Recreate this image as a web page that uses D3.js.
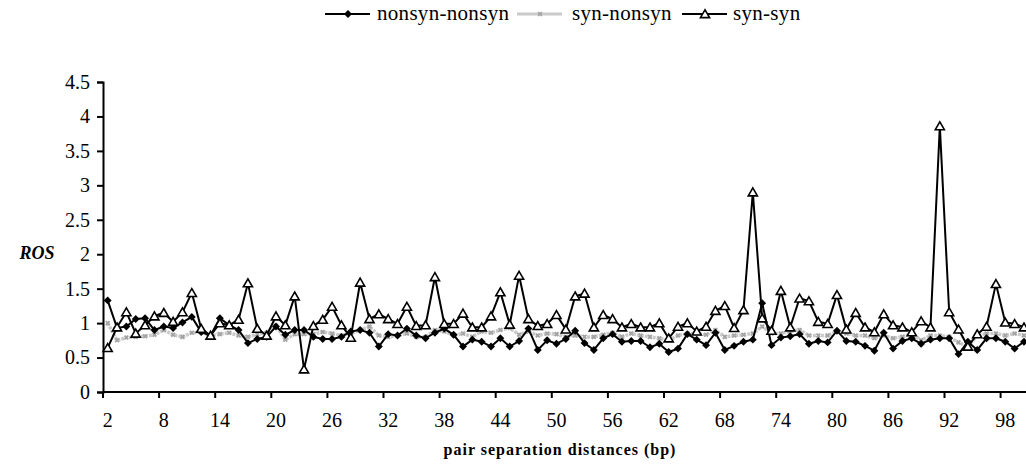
<!DOCTYPE html>
<html lang="en">
<head>
<meta charset="utf-8" />
<title>ROS by pair separation distance</title>
<script src="https://cdn.jsdelivr.net/npm/d3@7/dist/d3.min.js"></script>
<style>
  body { margin: 0; background: #fff; }
</style>
</head>
<body>
<svg id="chart" width="1026" height="468"></svg>
<script>
// pair separation distances 2..100 (bp)
const distances = d3.range(2, 101);

const nonsynNonsyn = [
  1.33, 0.93, 0.95, 1.06, 1.07, 0.90, 0.95, 0.93, 1.01, 1.09,
  0.87, 0.82, 1.07, 0.97, 0.90, 0.71, 0.77, 0.80, 0.95, 0.83,
  0.90, 0.90, 0.80, 0.77, 0.77, 0.80, 0.88, 0.90, 0.86, 0.66,
  0.84, 0.82, 0.92, 0.82, 0.78, 0.86, 0.92, 0.83, 0.66, 0.76,
  0.73, 0.66, 0.78, 0.66, 0.74, 0.92, 0.61, 0.75, 0.70, 0.77,
  0.89, 0.71, 0.61, 0.78, 0.84, 0.73, 0.74, 0.74, 0.65, 0.70,
  0.58, 0.63, 0.84, 0.76, 0.68, 0.86, 0.61, 0.67, 0.73, 0.76,
  1.29, 0.68, 0.79, 0.81, 0.84, 0.70, 0.74, 0.72, 0.89, 0.74,
  0.73, 0.67, 0.60, 0.86, 0.63, 0.74, 0.78, 0.70, 0.76, 0.78,
  0.78, 0.55, 0.73, 0.61, 0.78, 0.78, 0.73, 0.63, 0.73
];

const synNonsyn = [
  1.00, 0.75, 0.79, 0.80, 0.81, 0.83, 0.90, 0.83, 0.80, 0.86,
  0.87, 0.82, 0.84, 0.86, 0.82, 0.80, 0.84, 0.86, 0.96, 0.76,
  0.84, 0.84, 0.84, 0.87, 0.85, 0.82, 0.85, 0.90, 0.95, 0.82,
  0.80, 0.82, 0.85, 0.80, 0.80, 0.90, 0.88, 0.82, 0.85, 0.80,
  0.88, 0.86, 0.90, 0.93, 0.83, 0.88, 0.82, 0.85, 0.84, 0.80,
  0.82, 0.80, 0.80, 0.83, 0.86, 0.80, 0.85, 0.82, 0.80, 0.78,
  0.75, 0.82, 0.85, 0.85, 0.83, 0.90, 0.80, 0.82, 0.83, 0.85,
  0.95, 0.85, 0.85, 0.88, 0.90, 0.82, 0.82, 0.82, 0.88, 0.85,
  0.82, 0.82, 0.78, 0.82, 0.78, 0.80, 0.85, 0.75, 0.82, 0.82,
  0.80, 0.72, 0.66, 0.82, 0.85, 0.85, 0.82, 0.85, 0.82
];

const synSyn = [
  0.64, 0.94, 1.16, 0.85, 0.97, 1.10, 1.15, 1.02, 1.16, 1.44,
  0.92, 0.82, 1.00, 0.97, 1.05, 1.58, 0.92, 0.82, 1.10, 0.97,
  1.39, 0.33, 0.96, 1.05, 1.24, 0.97, 0.79, 1.59, 1.06, 1.13,
  1.06, 0.99, 1.24, 0.96, 0.97, 1.67, 0.99, 0.99, 1.14, 0.94,
  0.94, 1.10, 1.45, 0.98, 1.69, 1.06, 0.96, 0.99, 1.12, 0.91,
  1.39, 1.43, 0.94, 1.12, 1.06, 0.94, 0.99, 0.94, 0.94, 1.00,
  0.78, 0.95, 1.00, 0.88, 0.95, 1.18, 1.25, 0.93, 1.19, 2.90,
  1.07, 0.89, 1.47, 0.94, 1.36, 1.32, 1.02, 0.99, 1.41, 0.91,
  1.15, 0.94, 0.87, 1.13, 0.97, 0.94, 0.87, 1.03, 0.94, 3.86,
  1.16, 0.91, 0.66, 0.84, 0.95, 1.57, 1.01, 0.99, 0.94
];

const yTicks = [0, 0.5, 1, 1.5, 2, 2.5, 3, 3.5, 4, 4.5];
const xTickLabels = d3.range(2, 101, 6);

const seriesNames = ["nonsyn-nonsyn", "syn-nonsyn", "syn-syn"];

const serif = "Liberation Serif";
const labelSize = 20;

const svg = d3.select("#chart").attr("font-family", serif);

const margin = { top: 82, left: 103, bottom: 76 };
const catWidth = 9.35;
const innerHeight = 468 - margin.top - margin.bottom;

const xScale = d3.scaleBand()
  .domain(distances)
  .range([margin.left, margin.left + catWidth * distances.length]);

const yScale = d3.scaleLinear()
  .domain([0, 4.5])
  .range([margin.top + innerHeight, margin.top]);

const xPos = (d) => xScale(d) + xScale.bandwidth() / 2;

// axes
const yAxis = svg.append("g")
  .attr("transform", `translate(${margin.left},0)`)
  .call(d3.axisLeft(yScale).tickValues(yTicks).tickSize(6).tickPadding(7).tickFormat(d3.format("")));
yAxis.attr("font-family", serif).attr("font-size", labelSize);
yAxis.select(".domain").attr("stroke-width", 2);
yAxis.selectAll(".tick line").attr("stroke-width", 2);
yAxis.selectAll("text").attr("fill", "#000").attr("font-family", serif);

const xAxis = svg.append("g")
  .attr("transform", `translate(0,${yScale(0)})`)
  .call(d3.axisBottom(xScale).tickValues(xTickLabels).tickSize(0).tickPadding(21));
xAxis.attr("font-family", serif).attr("font-size", labelSize);
xAxis.select(".domain").attr("d", `M${margin.left},0H1026`).attr("stroke-width", 2);
xAxis.selectAll("text").attr("fill", "#000").attr("font-family", serif);
// Excel-style: tick marks sit on category boundaries
xAxis.selectAll(".tick")
  .append("line")
  .attr("x1", -xScale.bandwidth() / 2)
  .attr("x2", -xScale.bandwidth() / 2)
  .attr("y1", 0)
  .attr("y2", 6)
  .attr("stroke", "#000")
  .attr("stroke-width", 2);

// lines
const line = d3.line()
  .x((d, i) => xPos(distances[i]))
  .y((d) => yScale(d));

const plot = svg.append("g");

// syn-nonsyn: grey textured line
plot.append("path")
  .attr("d", line(synNonsyn))
  .attr("fill", "none")
  .attr("stroke", "#cacaca")
  .attr("stroke-width", 3.5)
  .attr("stroke-dasharray", "3 1");
plot.selectAll(".sn-dot")
  .data(synNonsyn)
  .enter()
  .append("path")
  .attr("class", "sn-dot")
  .attr("d", d3.symbol(d3.symbolCross, 16))
  .attr("transform", (d, i) => `translate(${xPos(distances[i])},${yScale(d)}) rotate(45)`)
  .attr("fill", "#a4a4a4");

plot.append("path")
  .attr("d", line(nonsynNonsyn))
  .attr("fill", "none")
  .attr("stroke", "#000")
  .attr("stroke-width", 2);
plot.selectAll(".nn-dot")
  .data(nonsynNonsyn)
  .enter()
  .append("path")
  .attr("class", "nn-dot")
  .attr("d", d3.symbol(d3.symbolDiamond2, 40))
  .attr("transform", (d, i) => `translate(${xPos(distances[i])},${yScale(d)})`)
  .attr("fill", "#000");

plot.append("path")
  .attr("d", line(synSyn))
  .attr("fill", "none")
  .attr("stroke", "#000")
  .attr("stroke-width", 2);
plot.selectAll(".ss-dot")
  .data(synSyn)
  .enter()
  .append("path")
  .attr("class", "ss-dot")
  .attr("d", d3.symbol(d3.symbolTriangle, 36))
  .attr("transform", (d, i) => `translate(${xPos(distances[i])},${yScale(d) + 1})`)
  .attr("fill", "#fff")
  .attr("stroke", "#000")
  .attr("stroke-width", 1.6);

// axis titles
svg.append("text")
  .attr("x", 560)
  .attr("y", 455)
  .attr("text-anchor", "middle")
  .attr("font-family", serif)
  .attr("font-size", 16)
  .attr("font-weight", 700)
  .attr("letter-spacing", 1)
  .text("pair separation distances (bp)");

svg.append("text")
  .attr("x", 37)
  .attr("y", 259)
  .attr("text-anchor", "middle")
  .attr("font-family", serif)
  .attr("font-size", 18)
  .attr("font-weight", 700)
  .attr("font-style", "italic")
  .text("ROS");

// legend
const legendItems = [
  { name: seriesNames[0], x: 325, textX: 377 },
  { name: seriesNames[1], x: 517, textX: 572 },
  { name: seriesNames[2], x: 682, textX: 733 }
];
const legend = svg.append("g").attr("class", "legend");
legendItems.forEach((item, k) => {
  const g = legend.append("g");
  g.append("line")
    .attr("x1", item.x).attr("x2", item.x + 45)
    .attr("y1", 14).attr("y2", 14)
    .attr("stroke", k === 1 ? "#cacaca" : "#000")
    .attr("stroke-width", k === 1 ? 3 : 2);
  if (k === 0) {
    g.append("path")
      .attr("d", d3.symbol(d3.symbolDiamond2, 40))
      .attr("transform", `translate(${item.x + 23},14)`)
      .attr("fill", "#000");
  } else if (k === 1) {
    g.append("path")
      .attr("d", d3.symbol(d3.symbolCross, 16))
      .attr("transform", `translate(${item.x + 23},14) rotate(45)`)
      .attr("fill", "#a4a4a4");
  } else {
    g.append("path")
      .attr("d", d3.symbol(d3.symbolTriangle, 36))
      .attr("transform", `translate(${item.x + 23},15)`)
      .attr("fill", "#fff")
      .attr("stroke", "#000")
      .attr("stroke-width", 1.6);
  }
  g.append("text")
    .attr("x", item.textX)
    .attr("y", 20)
    .attr("font-family", serif)
    .attr("font-size", 21)
    .attr("letter-spacing", 0.3)
    .text(item.name);
});
</script>
</body>
</html>
